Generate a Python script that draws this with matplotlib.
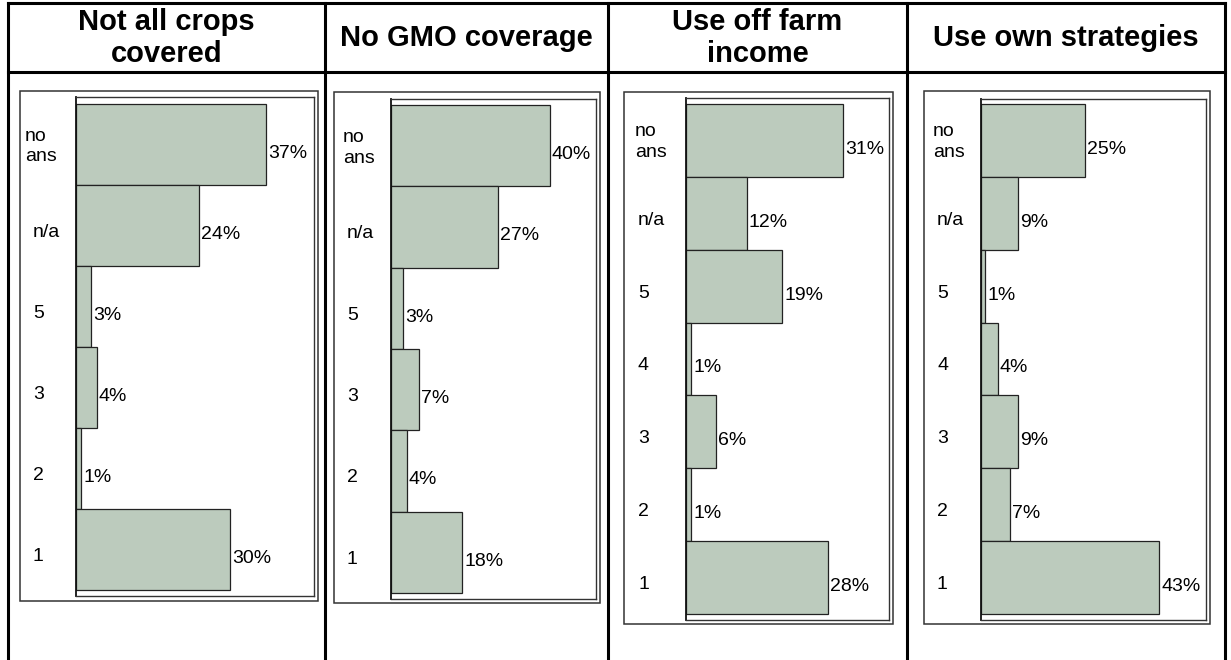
import matplotlib.pyplot as plt
from matplotlib.patches import Rectangle
from matplotlib.lines import Line2D

plt.rcParams['font.family'] = ['Liberation Sans', 'DejaVu Sans']

# --- data ---
titles = ['Not all crops\ncovered', 'No GMO coverage', 'Use off farm\nincome', 'Use own strategies']

cats_crops = ['no\nans', 'n/a', '5', '3', '2', '1']
vals_crops = [37, 24, 3, 4, 1, 30]

cats_gmo = ['no\nans', 'n/a', '5', '3', '2', '1']
vals_gmo = [40, 27, 3, 7, 4, 18]

cats_offfarm = ['no\nans', 'n/a', '5', '4', '3', '2', '1']
vals_offfarm = [31, 12, 19, 1, 6, 1, 28]

cats_own = ['no\nans', 'n/a', '5', '4', '3', '2', '1']
vals_own = [25, 9, 1, 4, 9, 7, 43]

panels = [(cats_crops, vals_crops), (cats_gmo, vals_gmo),
          (cats_offfarm, vals_offfarm), (cats_own, vals_own)]

# --- layout in pixels of the 1231x660 picture ---
W, H = 1231, 660
col_edges = [8, 325, 608, 907, 1225]
table_top, header_bottom = 3, 72
# outer box, axes box, bars top/bottom, xmax, label offsets
layout = [
    dict(box=(20, 91, 318, 601), ax=(76, 97, 314, 596), bars=(104, 590), xmax=46.4, lab=43, noans=51),
    dict(box=(334, 92, 600, 603), ax=(391, 99, 596, 599), bars=(105, 593), xmax=51.7, lab=44, noans=48),
    dict(box=(624, 92, 893, 624), ax=(686, 98, 889, 620), bars=(104, 614), xmax=40.1, lab=48, noans=51),
    dict(box=(924, 91, 1210, 624), ax=(981, 99, 1206, 620), bars=(104, 614), xmax=54.3, lab=44, noans=48),
]

bar_color = '#bccbbd'
edge_color = '#222222'
fs = 14

fig = plt.figure(figsize=(W / 100, H / 100), dpi=100)


def fx(px):
    return px / W


def fy(py):
    return 1 - py / H


def fig_rect(x0, y0, x1, y1):
    return [fx(x0), fy(y1), fx(x1) - fx(x0), fy(y0) - fy(y1)]


# table grid
lw_table = 2.2
for y in [table_top, header_bottom]:
    fig.add_artist(Line2D([fx(col_edges[0]), fx(col_edges[-1])], [fy(y), fy(y)],
                          color='black', lw=lw_table, solid_capstyle='projecting'))
for x in col_edges:
    fig.add_artist(Line2D([fx(x), fx(x)], [fy(table_top), fy(H + 5)],
                          color='black', lw=lw_table, solid_capstyle='projecting'))

# header titles
for i, t in enumerate(titles):
    cx = (col_edges[i] + col_edges[i + 1]) / 2
    fig.text(fx(cx), fy(38), t, ha='center', va='center', fontsize=21,
             fontweight='bold', linespacing=1.15)

for (cats, vals), lay in zip(panels, layout):
    bx0, by0, bx1, by1 = lay['box']
    fig.add_artist(Rectangle((fx(bx0), fy(by1)), fx(bx1) - fx(bx0), fy(by0) - fy(by1),
                             transform=fig.transFigure, fill=False, ec='#333333', lw=1.1))

    ax0, ay0, ax1, ay1 = lay['ax']
    ax = fig.add_axes(fig_rect(ax0, ay0, ax1, ay1))
    n = len(cats)
    ypos = [n - 1 - i for i in range(n)]
    ax.barh(ypos, vals, height=1.0, color=bar_color, edgecolor=edge_color, linewidth=0.9)

    top, bot = lay['bars']
    unit = (bot - top) / n
    ax.set_ylim(-0.5 - (ay1 - bot) / unit, n - 0.5 + (top - ay0) / unit)
    ax.set_xlim(0, lay['xmax'])
    ax.set_xticks([])
    ax.set_yticks([])
    for s in ax.spines.values():
        s.set_color('#333333')
        s.set_linewidth(1.0)
    ax.spines['left'].set_color('#111111')
    ax.spines['left'].set_linewidth(1.3)

    for c, v, y in zip(cats, vals, ypos):
        if '\n' in c:
            ax.annotate(c, xy=(0, y), xycoords=('axes fraction', 'data'),
                        xytext=(-lay['noans'], -2), textcoords='offset pixels',
                        ha='left', va='center', fontsize=fs, linespacing=1.3)
        else:
            ax.annotate(c, xy=(0, y), xycoords=('axes fraction', 'data'),
                        xytext=(-lay['lab'], -7), textcoords='offset pixels',
                        ha='left', va='center', fontsize=fs)
        ax.annotate(f'{v}%', xy=(v, y), xycoords='data',
                    xytext=(2, -9), textcoords='offset pixels',
                    ha='left', va='center', fontsize=fs)

fig.savefig('out.png', dpi=100)
